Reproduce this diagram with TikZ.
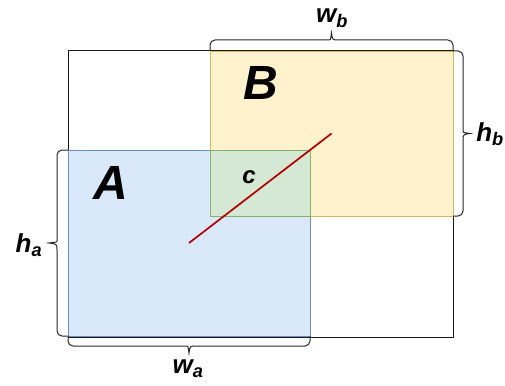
\documentclass[tikz,border=0pt]{standalone}
\usepackage{fontspec}
\setmainfont{Liberation Sans}
\usetikzlibrary{calc}
\definecolor{afill}{HTML}{DAE8FC}
\definecolor{aline}{HTML}{6C8EBF}
\definecolor{bfill}{HTML}{FFF2CC}
\definecolor{bline}{HTML}{D6B656}
\definecolor{cfill}{HTML}{D5E8D4}
\definecolor{cline}{HTML}{82B366}
\definecolor{redline}{HTML}{B20000}
\tikzset{
  box/.style={rectangle, inner sep=0pt, outer sep=0pt, anchor=north west, line width=0.8pt},
  bigletter/.style={font=\fontsize{48}{48}\selectfont\bfseries\itshape},
  dimlabel/.style={font=\fontsize{26}{26}\selectfont\bfseries\itshape, inner sep=0pt},
  curly/.style={line width=1pt, draw=black!85, rounded corners=5pt},
}
\begin{document}
\begin{tikzpicture}[x=1pt, y=-1pt]
\useasboundingbox (0,0) rectangle (505,385);
\node[box, draw=black!90, line width=1pt, minimum width=385pt, minimum height=286pt] (outer) at (68,51) {};
\node[box, draw=bline, fill=bfill, minimum width=243pt, minimum height=165pt] (B) at (210,51) {};
\node[box, draw=aline, fill=afill, minimum width=242pt, minimum height=186pt] (A) at (68,150) {};
\node[box, draw=cline, fill=cfill, minimum width=100pt, minimum height=66pt] (C) at (210,150) {};
\draw[draw=redline, line width=1.7pt] (A.center) -- (B.center);
\node[bigletter] (la) at (111,183) {A};
\node[bigletter] (lb) at (261,83) {B};
\node[font=\fontsize{24}{24}\selectfont\bfseries\itshape] (lc) at (249,177) {c};
% top brace over B
\draw[curly] (B.north west) -- ($(B.north west)+(0,-11)$) -- ($(B.north)+(-7,-11)$) [sharp corners]
  .. controls ($(B.north)+(-1,-11)$) .. ($(B.north)+(0,-18)$)
  .. controls ($(B.north)+(1,-11)$) .. ($(B.north)+(7,-11)$) [rounded corners=5pt]
  -- ($(B.north east)+(0,-11)$) -- (B.north east);
% right brace of B
\draw[curly] (B.north east) -- ($(B.north east)+(10,0)$) -- ($(B.east)+(10,-7)$) [sharp corners]
  .. controls ($(B.east)+(10,-1)$) .. ($(B.east)+(17,0)$)
  .. controls ($(B.east)+(10,1)$) .. ($(B.east)+(10,7)$) [rounded corners=5pt]
  -- ($(B.south east)+(10,0)$) -- (B.south east);
% left brace of A
\draw[curly] (A.north west) -- ($(A.north west)+(-11,0)$) -- ($(A.west)+(-11,-7)$) [sharp corners]
  .. controls ($(A.west)+(-11,-1)$) .. ($(A.west)+(-19,0)$)
  .. controls ($(A.west)+(-11,1)$) .. ($(A.west)+(-11,7)$) [rounded corners=5pt]
  -- ($(A.south west)+(-11,0)$) -- (A.south west);
% bottom brace of A
\draw[curly] (A.south west) -- ($(A.south west)+(0,10)$) -- ($(A.south)+(-7,10)$) [sharp corners]
  .. controls ($(A.south)+(-1,10)$) .. ($(A.south)+(0,17)$)
  .. controls ($(A.south)+(1,10)$) .. ($(A.south)+(7,10)$) [rounded corners=5pt]
  -- ($(A.south east)+(0,10)$) -- (A.south east);
\node[dimlabel] (wb) at (332,18) {w\textsubscript{b}};
\node[dimlabel] (hb) at (490,134) {h\textsubscript{b}};
\node[dimlabel] (ha) at (29,245) {h\textsubscript{a}};
\node[dimlabel] (wa) at (188,369) {w\textsubscript{a}};
\end{tikzpicture}
\end{document}
